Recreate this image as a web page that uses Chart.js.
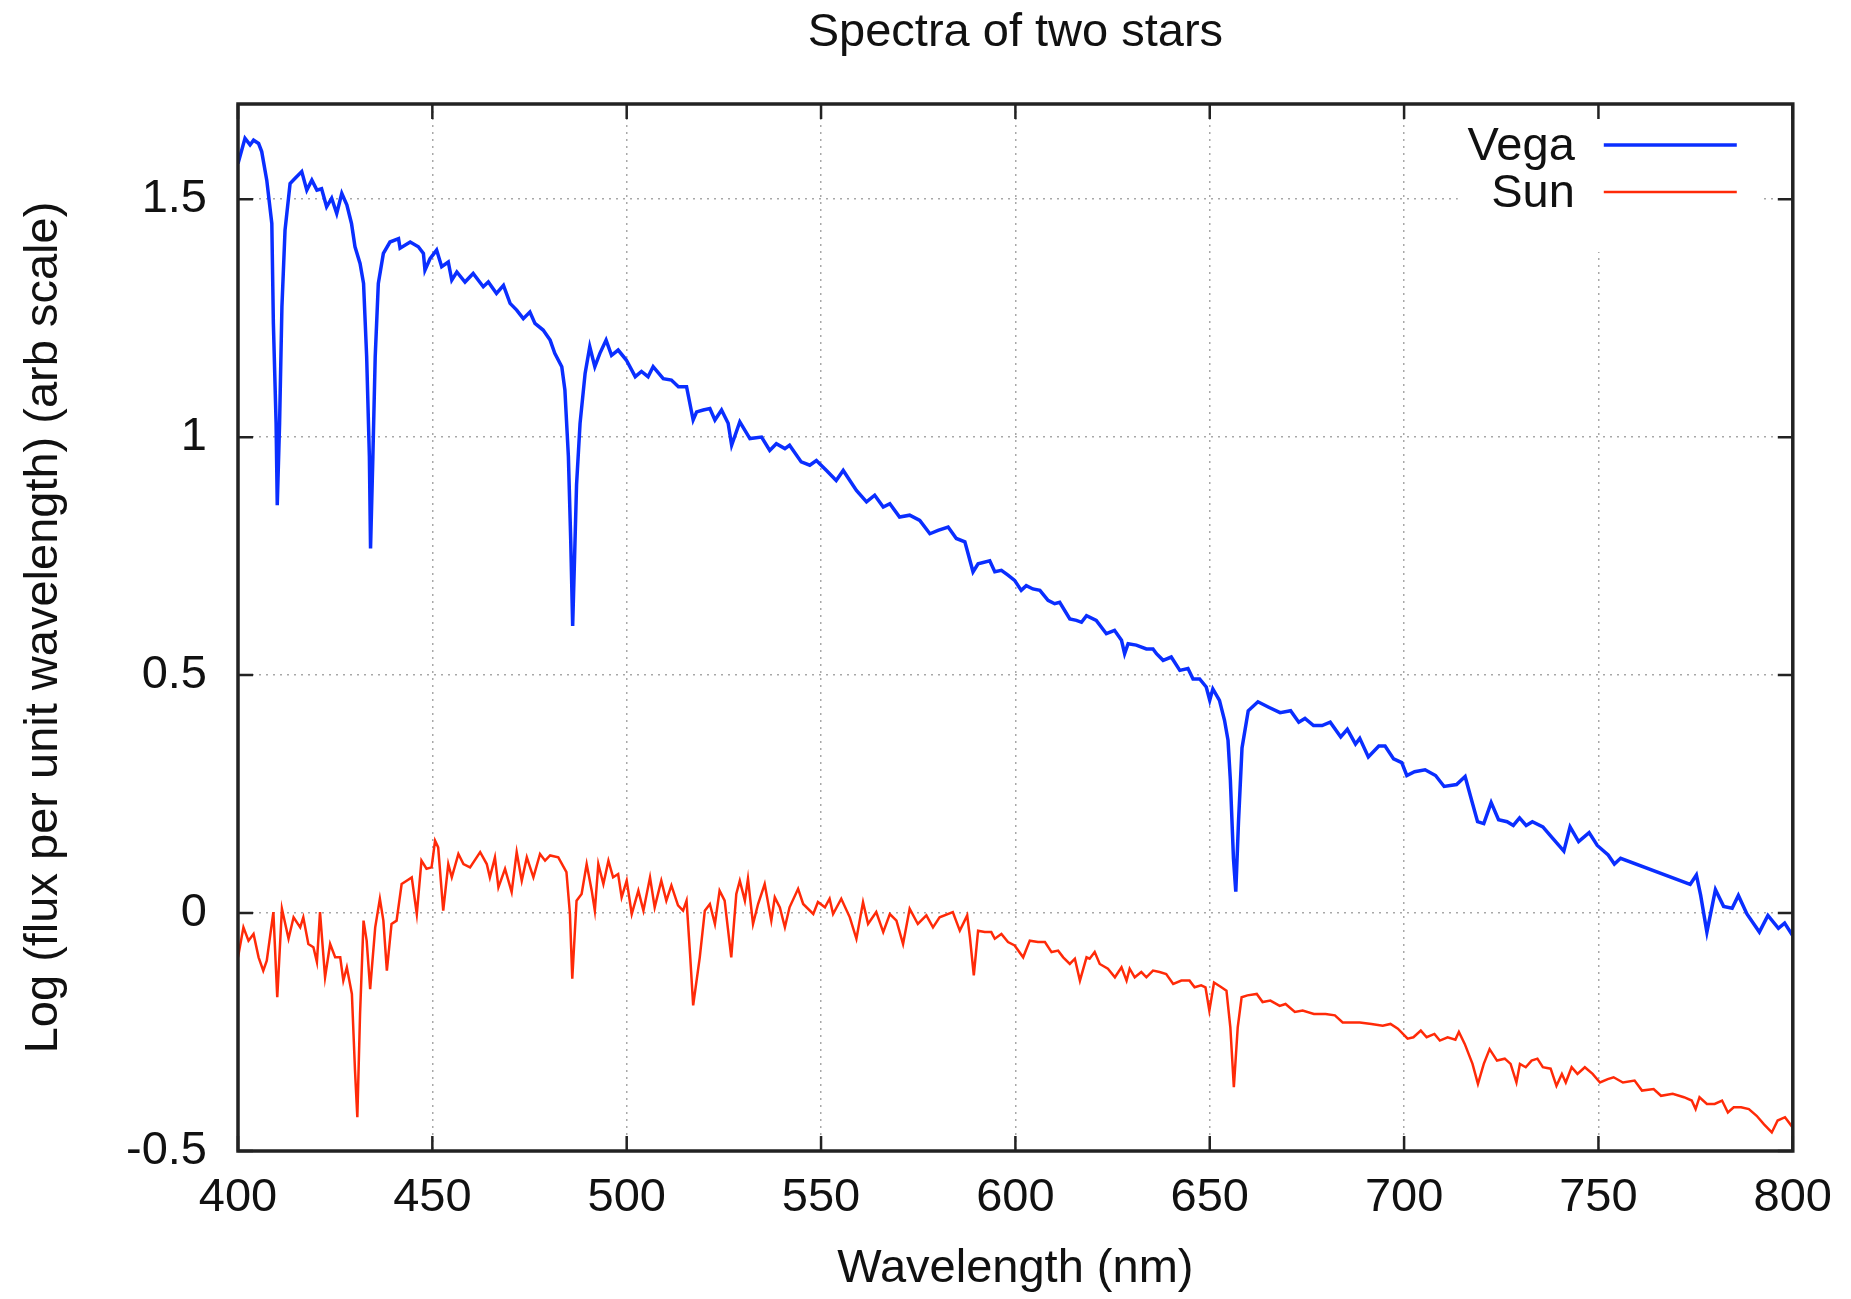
<!DOCTYPE html>
<html>
<head>
<meta charset="utf-8">
<title>Spectra of two stars</title>
<script src="https://cdn.jsdelivr.net/npm/chart.js@4.4.1/dist/chart.umd.min.js"></script>
<style>
  html, body { margin: 0; padding: 0; background: #fff; }
  canvas { display: block; }
</style>
</head>
<body>
<canvas id="chart" width="1851" height="1299"></canvas>
<script>
// wavelengths in nm, flux as log10 (arbitrary scale)
var vegaWavelength = [
  400.0, 401.8, 403.1, 404.0, 405.3, 406.1, 407.4, 408.7, 409.1, 409.8,
  410.1, 410.7, 411.3, 412.1, 413.4, 414.7, 416.4, 417.7, 419.0, 420.3,
  421.5, 422.8, 424.1, 425.4, 426.7, 428.0, 429.2, 430.1, 431.4, 432.3,
  433.1, 433.8, 434.1, 434.7, 435.3, 436.1, 437.4, 439.1, 441.3, 441.7,
  444.3, 446.4, 447.7, 448.1, 449.4, 451.1, 452.4, 454.1, 455.0, 456.3,
  458.4, 460.5, 463.1, 464.4, 466.5, 468.3, 470.0, 471.7, 473.4, 475.1,
  476.4, 478.5, 480.3, 481.5, 483.3, 484.1, 485.0, 485.6, 486.1, 486.6,
  487.1, 488.0, 489.3, 490.5, 491.8, 493.1, 494.7, 496.1, 497.8, 499.9,
  502.2, 503.8, 505.5, 506.8, 509.4, 511.5, 513.3, 515.4, 517.1, 518.0,
  519.7, 521.4, 522.7, 524.4, 526.1, 527.0, 529.1, 531.7, 534.7, 536.8,
  538.5, 540.7, 541.9, 544.9, 547.1, 548.8, 551.4, 553.9, 555.7, 559.1,
  561.7, 563.8, 566.0, 567.7, 570.2, 572.8, 575.4, 578.0, 580.1, 582.7,
  584.8, 587.0, 589.1, 590.4, 593.4, 594.7, 596.4, 598.1, 599.8, 601.5,
  602.8, 604.5, 606.3, 608.4, 610.1, 611.4, 614.0, 615.7, 617.0, 618.3,
  620.8, 623.4, 625.5, 627.3, 628.1, 629.0, 631.1, 633.7, 635.4, 636.3,
  638.0, 640.1, 642.3, 644.4, 645.7, 647.4, 649.1, 650.0, 650.8, 652.5,
  653.8, 654.7, 655.3, 656.1, 656.7, 657.4, 658.3, 659.9, 662.4, 665.3,
  668.1, 670.8, 672.9, 674.5, 676.7, 678.9, 681.0, 683.7, 685.4, 687.5,
  688.6, 690.8, 693.5, 695.1, 697.3, 699.4, 700.7, 702.7, 705.4, 708.1,
  710.3, 713.5, 715.7, 717.3, 718.9, 720.5, 722.4, 724.3, 726.5, 728.1,
  729.7, 731.4, 733.0, 735.7, 737.8, 741.1, 742.7, 744.9, 747.6, 749.7,
  752.5, 754.1, 755.7, 773.6, 775.2, 776.3, 777.9, 780.1, 782.2, 784.4,
  786.0, 788.2, 791.4, 793.6, 796.3, 797.9, 800.0
];
var vegaFlux = [
  1.575, 1.628, 1.614, 1.624, 1.617, 1.600, 1.540, 1.449, 1.239, 1.029,
  0.857, 1.029, 1.274, 1.435, 1.533, 1.544, 1.558, 1.519, 1.540, 1.519,
  1.522, 1.484, 1.502, 1.470, 1.512, 1.488, 1.449, 1.400, 1.365, 1.323,
  1.169, 0.959, 0.766, 0.959, 1.169, 1.323, 1.386, 1.410, 1.417, 1.397,
  1.410, 1.400, 1.386, 1.351, 1.375, 1.393, 1.358, 1.368, 1.330, 1.347,
  1.326, 1.344, 1.316, 1.326, 1.302, 1.319, 1.281, 1.267, 1.249, 1.263,
  1.239, 1.225, 1.204, 1.176, 1.148, 1.099, 0.959, 0.783, 0.603, 0.750,
  0.900, 1.029, 1.134, 1.190, 1.148, 1.176, 1.204, 1.172, 1.183, 1.162,
  1.127, 1.138, 1.127, 1.148, 1.123, 1.120, 1.106, 1.106, 1.036, 1.053,
  1.057, 1.060, 1.036, 1.057, 1.029, 0.983, 1.032, 0.997, 1.000, 0.972,
  0.986, 0.976, 0.983, 0.948, 0.941, 0.951, 0.930, 0.909, 0.930, 0.888,
  0.864, 0.878, 0.853, 0.860, 0.832, 0.836, 0.825, 0.797, 0.804, 0.811,
  0.787, 0.780, 0.717, 0.734, 0.740, 0.717, 0.720, 0.710, 0.699, 0.678,
  0.688, 0.681, 0.678, 0.657, 0.650, 0.653, 0.618, 0.615, 0.611, 0.625,
  0.615, 0.587, 0.594, 0.573, 0.545, 0.566, 0.563, 0.555, 0.555, 0.545,
  0.531, 0.538, 0.510, 0.514, 0.492, 0.492, 0.475, 0.447, 0.471, 0.447,
  0.405, 0.363, 0.280, 0.115, 0.045, 0.192, 0.347, 0.425, 0.444, 0.432,
  0.421, 0.425, 0.401, 0.409, 0.394, 0.394, 0.401, 0.370, 0.386, 0.355,
  0.367, 0.328, 0.351, 0.351, 0.324, 0.316, 0.289, 0.297, 0.301, 0.289,
  0.266, 0.270, 0.287, 0.239, 0.192, 0.188, 0.232, 0.196, 0.192, 0.184,
  0.200, 0.184, 0.192, 0.181, 0.161, 0.130, 0.181, 0.150, 0.169, 0.142,
  0.122, 0.103, 0.115, 0.060, 0.080, 0.037, -0.040, 0.049, 0.014, 0.010,
  0.037, -0.002, -0.040, -0.005, -0.032, -0.021, -0.048
];

var sunWavelength = [
  400.0, 401.4, 402.7, 404.0, 405.3, 406.5, 407.4, 409.1, 410.1, 411.3,
  413.0, 414.3, 416.0, 416.8, 418.1, 419.4, 420.3, 421.1, 422.4, 423.7,
  425.0, 426.3, 427.1, 428.0, 429.3, 430.1, 430.7, 431.4, 432.3, 433.1,
  434.0, 435.3, 436.5, 437.4, 438.3, 439.5, 440.8, 442.1, 443.4, 444.7,
  446.0, 447.2, 448.5, 449.8, 450.7, 451.5, 452.8, 454.1, 455.0, 456.7,
  458.0, 459.7, 462.3, 464.0, 464.8, 466.1, 467.0, 468.7, 470.4, 471.7,
  473.0, 474.3, 476.0, 477.7, 479.0, 480.3, 482.4, 484.5, 485.4, 486.0,
  487.1, 488.4, 489.7, 491.0, 491.8, 492.7, 494.0, 495.3, 496.5, 497.8,
  498.7, 500.0, 501.3, 503.0, 504.3, 506.0, 507.2, 508.9, 510.2, 511.5,
  513.2, 514.5, 515.4, 516.3, 517.1, 518.8, 520.1, 521.4, 522.7, 523.9,
  525.2, 526.9, 528.2, 529.1, 530.4, 531.2, 532.5, 533.8, 535.5, 537.2,
  538.1, 539.4, 540.7, 541.9, 544.1, 545.4, 548.0, 549.2, 551.0, 552.2,
  553.1, 555.2, 557.4, 559.1, 560.8, 562.1, 564.2, 566.0, 567.7, 569.4,
  571.1, 572.8, 574.9, 577.1, 578.8, 580.5, 583.9, 585.7, 587.6, 588.3,
  589.3, 590.4, 592.1, 593.8, 594.7, 596.4, 598.1, 599.8, 602.0, 603.7,
  605.8, 607.6, 609.3, 611.0, 612.3, 614.0, 615.3, 616.6, 618.3, 619.1,
  620.4, 621.7, 623.8, 625.6, 627.3, 628.6, 629.4, 630.7, 632.4, 633.7,
  635.4, 637.1, 638.8, 640.6, 642.7, 644.8, 646.1, 647.8, 648.9, 649.9,
  651.1, 652.8, 654.3, 655.3, 656.2, 657.2, 658.2, 659.7, 662.1, 663.6,
  665.6, 668.0, 669.5, 671.9, 673.9, 676.8, 679.8, 682.2, 684.2, 688.6,
  691.6, 694.5, 696.5, 698.4, 700.9, 702.4, 704.3, 705.8, 707.8, 709.2,
  711.2, 713.2, 714.1, 715.6, 717.6, 719.0, 720.5, 722.0, 723.9, 725.9,
  727.4, 728.9, 729.8, 731.3, 732.8, 734.3, 735.7, 737.7, 739.2, 740.6,
  741.6, 743.1, 744.6, 746.5, 748.5, 750.4, 752.4, 753.9, 756.3, 759.3,
  761.2, 764.2, 766.1, 769.1, 772.0, 774.0, 775.0, 776.0, 777.9, 779.9,
  781.8, 783.3, 784.8, 786.7, 788.7, 790.7, 792.6, 794.6, 796.1, 798.0,
  800.0
];
var sunFlux = [
  -0.093, -0.030, -0.058, -0.044, -0.093, -0.121, -0.100, 0.002, -0.177, 0.009,
  -0.054, -0.009, -0.030, -0.009, -0.065, -0.072, -0.103, 0.002, -0.135, -0.065,
  -0.093, -0.093, -0.142, -0.114, -0.170, -0.331, -0.429, -0.212, -0.016, -0.058,
  -0.160, -0.030, 0.030, -0.016, -0.121, -0.023, -0.016, 0.061, 0.068, 0.075,
  -0.002, 0.110, 0.093, 0.096, 0.152, 0.138, 0.005, 0.103, 0.075, 0.124,
  0.103, 0.096, 0.128, 0.103, 0.075, 0.117, 0.054, 0.093, 0.044, 0.128,
  0.068, 0.117, 0.075, 0.124, 0.110, 0.121, 0.117, 0.086, -0.002, -0.138,
  0.026, 0.040, 0.103, 0.047, 0.005, 0.103, 0.061, 0.110, 0.075, 0.082,
  0.033, 0.068, -0.002, 0.047, 0.005, 0.075, 0.012, 0.068, 0.026, 0.058,
  0.016, 0.005, 0.026, -0.086, -0.194, -0.093, 0.005, 0.019, -0.023, 0.047,
  0.026, -0.093, 0.040, 0.068, 0.026, 0.072, -0.023, 0.019, 0.061, -0.016,
  0.033, 0.012, -0.030, 0.012, 0.051, 0.019, -0.002, 0.023, 0.012, 0.030,
  -0.002, 0.030, -0.009, -0.054, 0.023, -0.023, 0.002, -0.040, -0.002, -0.016,
  -0.065, 0.009, -0.023, -0.005, -0.030, -0.009, 0.002, -0.037, -0.005, -0.051,
  -0.131, -0.037, -0.040, -0.040, -0.054, -0.044, -0.061, -0.068, -0.093, -0.058,
  -0.061, -0.061, -0.082, -0.079, -0.093, -0.107, -0.096, -0.142, -0.093, -0.096,
  -0.082, -0.107, -0.117, -0.135, -0.114, -0.142, -0.117, -0.135, -0.124, -0.135,
  -0.121, -0.124, -0.128, -0.149, -0.142, -0.142, -0.156, -0.152, -0.156, -0.205,
  -0.146, -0.155, -0.163, -0.240, -0.366, -0.240, -0.177, -0.173, -0.170, -0.187,
  -0.184, -0.195, -0.191, -0.208, -0.205, -0.212, -0.212, -0.215, -0.230, -0.230,
  -0.233, -0.237, -0.233, -0.243, -0.264, -0.261, -0.247, -0.261, -0.254, -0.268,
  -0.261, -0.266, -0.250, -0.275, -0.317, -0.359, -0.317, -0.286, -0.310, -0.306,
  -0.317, -0.356, -0.317, -0.324, -0.310, -0.306, -0.324, -0.327, -0.363, -0.338,
  -0.356, -0.324, -0.338, -0.324, -0.338, -0.356, -0.349, -0.345, -0.356, -0.352,
  -0.373, -0.370, -0.384, -0.380, -0.387, -0.394, -0.412, -0.387, -0.401, -0.401,
  -0.394, -0.419, -0.408, -0.408, -0.412, -0.426, -0.444, -0.461, -0.436, -0.429,
  -0.451
];

var seriesNames = ["Vega", "Sun"];
var seriesColors = ["#0a2eff", "#ff2a08"];

var FONT = "'Liberation Sans', Arial, Helvetica, sans-serif";
var TEXT_COLOR = "#111";

function toPoints(xs, ys) {
  var pts = [];
  for (var i = 0; i < xs.length; i++) {
    pts.push({ x: xs[i], y: ys[i] });
  }
  return pts;
}

// gnuplot-like frame: white key box over the grid, mirrored inward ticks, heavy border
var gnuplotFrame = {
  id: "gnuplotFrame",
  beforeDatasetsDraw: function(chart) {
    var ctx = chart.ctx;
    var a = chart.chartArea;
    ctx.save();
    ctx.fillStyle = "#fff";
    ctx.fillRect(a.right - 335, a.top, 305, 148);

    ctx.font = "47px " + FONT;
    ctx.textAlign = "right";
    ctx.textBaseline = "middle";
    chart.data.datasets.forEach(function(ds, i) {
      var rowY = a.top + 41 + i * 47;
      ctx.fillStyle = TEXT_COLOR;
      ctx.fillText(ds.label, a.right - 218, rowY + 2);
      ctx.strokeStyle = ds.borderColor;
      ctx.lineWidth = ds.borderWidth;
      ctx.beginPath();
      ctx.moveTo(a.right - 189, rowY);
      ctx.lineTo(a.right - 56, rowY);
      ctx.stroke();
    });
    ctx.restore();
  },
  afterDatasetsDraw: function(chart) {
    var ctx = chart.ctx;
    var a = chart.chartArea;
    var xs = chart.scales.x;
    var ys = chart.scales.y;
    var len = 15;
    ctx.save();
    ctx.strokeStyle = "#222";
    ctx.lineWidth = 2.5;
    ctx.beginPath();
    xs.ticks.forEach(function(t) {
      var px = xs.getPixelForValue(t.value);
      ctx.moveTo(px, a.bottom);
      ctx.lineTo(px, a.bottom - len);
      ctx.moveTo(px, a.top);
      ctx.lineTo(px, a.top + len);
    });
    ys.ticks.forEach(function(t) {
      var py = ys.getPixelForValue(t.value);
      ctx.moveTo(a.left, py);
      ctx.lineTo(a.left + len, py);
      ctx.moveTo(a.right, py);
      ctx.lineTo(a.right - len, py);
    });
    ctx.stroke();
    ctx.lineWidth = 3.5;
    ctx.strokeRect(a.left, a.top, a.right - a.left, a.bottom - a.top);
    ctx.restore();
  }
};

var canvas = document.getElementById("chart");

var chartConfig = {
  type: "line",
  data: {
    datasets: [
      {
        label: seriesNames[0],
        data: toPoints(vegaWavelength, vegaFlux),
        borderColor: seriesColors[0],
        borderWidth: 3.5,
        pointRadius: 0,
        tension: 0,
      },
      {
        label: seriesNames[1],
        data: toPoints(sunWavelength, sunFlux),
        borderColor: seriesColors[1],
        borderWidth: 2.5,
        pointRadius: 0,
        tension: 0,
      },
    ],
  },
  options: {
    responsive: false,
    animation: false,
    events: [],
    layout: {
      padding: { left: 0, right: 57, top: 0, bottom: 0 },
    },
    plugins: {
      legend: { display: false },
      tooltip: { enabled: false },
      title: {
        display: true,
        fullSize: false, // centre over the plot area like gnuplot
        text: "Spectra of two stars",
        color: TEXT_COLOR,
        font: { family: FONT, size: 47, weight: "normal" },
        padding: { top: 5, bottom: 42.6 },
      },
    },
    scales: {
      x: {
        type: "linear",
        min: 400,
        max: 800,
        ticks: {
          stepSize: 50,
          padding: 19,
          color: TEXT_COLOR,
          font: { family: FONT, size: 47 },
          callback: function(value) { return String(value); },
        },
        grid: { color: "#a8a8a8", lineWidth: 1.5, drawTicks: false },
        border: { display: false, dash: [2, 5] },
        title: {
          display: true,
          text: "Wavelength (nm)",
          color: TEXT_COLOR,
          font: { family: FONT, size: 47 },
          padding: { top: 0, bottom: 2 },
        },
        afterFit: function(scale) { scale.height = 148; },
      },
      y: {
        type: "linear",
        min: -0.5,
        max: 1.7,
        ticks: {
          stepSize: 0.5,
          includeBounds: false,
          padding: 31,
          color: TEXT_COLOR,
          font: { family: FONT, size: 47 },
          callback: function(value) { return String(value); },
        },
        grid: { color: "#a8a8a8", lineWidth: 1.5, drawTicks: false },
        border: { display: false, dash: [2, 5] },
        title: {
          display: true,
          text: "Log (flux per unit wavelength) (arb scale)",
          color: TEXT_COLOR,
          font: { family: FONT, size: 47 },
          padding: { top: 16, bottom: 0 },
        },
        afterFit: function(scale) { scale.width = 238; },
      },
    },
  },
  plugins: [gnuplotFrame],
};

new Chart(canvas, chartConfig);
</script>
</body>
</html>
